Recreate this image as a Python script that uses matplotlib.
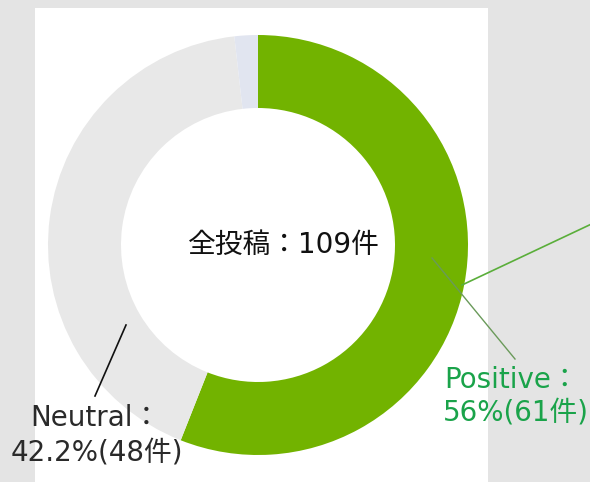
import matplotlib.pyplot as plt
from matplotlib.patches import Rectangle

# data
labels = ["Positive", "Neutral", "Other"]
shares = [56, 42.2, 1.8]
counts = [61, 48, 0]
total = 109
colors = ["#72b300", "#e8e8e8", "#e1e5f0"]

CX, CY, R = 258, 245, 210  # pixel centre / radius of the ring


def px(x, y):
    # pixel position -> data coords
    return (x - CX) / R, (CY - y) / R


fig = plt.figure(figsize=(5.9, 4.82), dpi=100)
fig.patch.set_facecolor("#e4e4e4")

ax = fig.add_axes([0, 0, 1, 1])
ax.set_facecolor("none")
# white panel behind the ring
ax.add_patch(Rectangle((35 / 590, 0), (488 - 35) / 590, 1 - 8 / 482,
                       transform=ax.transAxes, facecolor="white",
                       edgecolor="none", zorder=0))
ax.pie(shares, colors=colors, startangle=90, counterclock=False,
       radius=1.0, wedgeprops=dict(width=1 - 137 / 210, edgecolor="none",
                                   zorder=1))
ax.set_xlim(-CX / R, (590 - CX) / R)
ax.set_ylim(-(482 - CY) / R, CY / R)
ax.set_aspect("auto")
ax.axis("off")

jp = ["DejaVu Sans", "Noto Sans CJK JP"]

ax.text(*px(284, 245), f"全投稿：{total}件", ha="center", va="center",
        fontsize=20, family=jp, color="#111111", zorder=3)

# Neutral label
ax.plot(*zip(px(126, 325), px(95, 396)), color="#111111", lw=1.2, zorder=3)
ax.text(*px(95, 418), f"{labels[1]}：", ha="center", va="center",
        fontsize=20, family=jp, color="#2a2a2a", zorder=3)
ax.text(*px(97, 452), f"{shares[1]}%({counts[1]}件)", ha="center",
        va="center", fontsize=20, family=jp, color="#2a2a2a", zorder=3)

# Positive label
ax.plot(*zip(px(432, 258), px(515, 359)), color="#6a9a5a", lw=1.0, zorder=3)
ax.plot(*zip(px(462, 285), px(600, 220)), color="#5aae3a", lw=1.2, zorder=3)
ax.text(*px(512, 380), f"{labels[0]}：", ha="center", va="center",
        fontsize=20, family=jp, color="#1aa34a", zorder=3)
ax.text(*px(516, 413), f"{shares[0]}%({counts[0]}件)", ha="center",
        va="center", fontsize=20, family=jp, color="#1aa34a", zorder=3)

fig.savefig("out.png", dpi=100, facecolor=fig.get_facecolor())
